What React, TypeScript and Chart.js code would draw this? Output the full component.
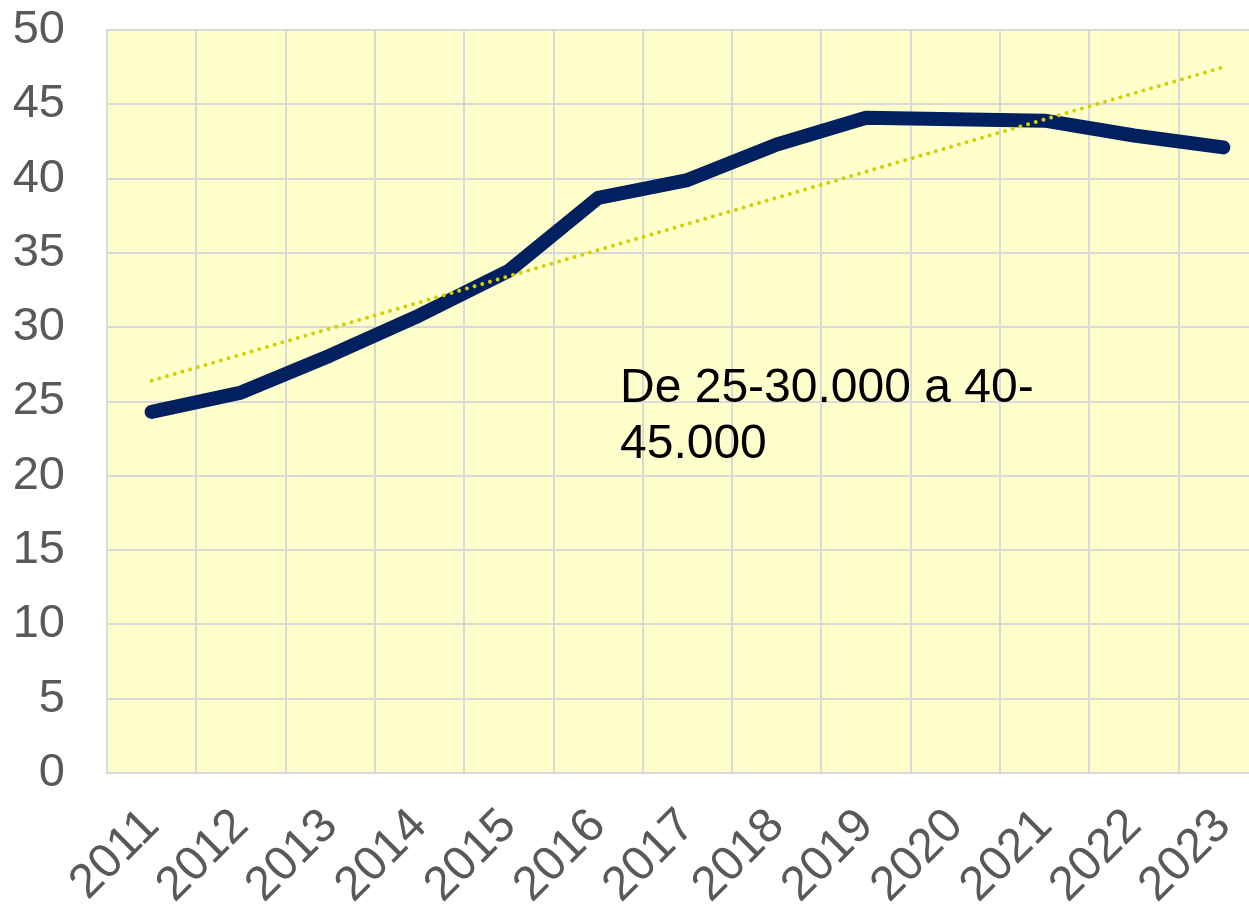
import React, { useEffect, useRef } from "react";
import { Chart, registerables } from "chart.js";

Chart.register(...registerables);

const years = ["2011", "2012", "2013", "2014", "2015", "2016", "2017", "2018", "2019", "2020", "2021", "2022", "2023"];
const values = [24.3, 25.6, 28.1, 30.8, 33.8, 38.7, 39.9, 42.3, 44.1, 44.0, 43.9, 42.9, 42.1];
const trendValues = [26.4, null, null, null, null, null, null, null, null, null, null, null, 47.5];
const yTicks = [0, 5, 10, 15, 20, 25, 30, 35, 40, 45, 50];
const annotationLines = ["De 25-30.000 a 40-", "45.000"];

const FONT = "'Liberation Sans', Arial, sans-serif";

const bgPlugin = {
  id: "plotBg",
  beforeDraw(chart: any) {
    const { ctx, chartArea } = chart;
    ctx.save();
    ctx.fillStyle = "#FFFFCC";
    ctx.fillRect(chartArea.left, chartArea.top, chartArea.right - chartArea.left, chartArea.bottom - chartArea.top);
    ctx.restore();
  },
};

const annotationPlugin = {
  id: "annot",
  afterDatasetsDraw(chart: any) {
    const { ctx, chartArea } = chart;
    ctx.save();
    ctx.fillStyle = "#000000";
    ctx.font = `48px ${FONT}`;
    ctx.textAlign = "left";
    ctx.textBaseline = "alphabetic";
    annotationLines.forEach((line, i) => {
      ctx.fillText(line, chartArea.left + 513, 402 + i * 56);
    });
    ctx.restore();
  },
};

export default function App() {
  const ref = useRef<HTMLCanvasElement | null>(null);
  useEffect(() => {
    if (!ref.current) return;
    const chart = new Chart(ref.current, {
      type: "line",
      data: {
        labels: years,
        datasets: [
          {
            data: values,
            borderColor: "#002060",
            borderWidth: 14,
            borderCapStyle: "round",
            borderJoinStyle: "round",
            pointRadius: 0,
            tension: 0,
            order: 1,
          },
          {
            data: trendValues,
            borderColor: "#d4cf00",
            borderWidth: 4,
            borderDash: [0.01, 8],
            borderCapStyle: "round",
            pointRadius: 0,
            spanGaps: true,
            order: 0,
          },
        ],
      },
      options: {
        responsive: false,
        animation: false,
        layout: { padding: { top: 30, left: 0, right: 0, bottom: 0 } },
        plugins: { legend: { display: false }, tooltip: { enabled: false } },
        scales: {
          x: {
            offset: true,
            grid: { offset: true, color: "#d9d9d9", lineWidth: 2, drawTicks: false },
            border: { color: "#d9d9d9", width: 2 },
            ticks: {
              autoSkip: false,
              minRotation: 45,
              maxRotation: 45,
              padding: 25,
              color: "#595959",
              font: { family: FONT, size: 48 },
            },
            afterFit(scale: any) {
              scale.height = 137;
              scale.paddingLeft = 0;
              scale.paddingRight = 0;
            },
          },
          y: {
            min: 0,
            max: 50,
            afterBuildTicks(scale: any) {
              scale.ticks = yTicks.map((v) => ({ value: v }));
            },
            grid: { color: "#d9d9d9", lineWidth: 2, drawTicks: false },
            border: { color: "#d9d9d9", width: 2 },
            ticks: {
              padding: 42,
              color: "#595959",
              font: { family: FONT, size: 47 },
            },
            afterFit(scale: any) {
              scale.width = 107;
              scale.paddingTop = 0;
              scale.paddingBottom = 0;
            },
          },
        },
      },
      plugins: [bgPlugin, annotationPlugin],
    });
    return () => chart.destroy();
  }, []);
  return (
    <div style={{ position: "fixed", left: 0, top: 0, width: 1249, height: 910, overflow: "hidden", background: "#ffffff" }}>
      <canvas ref={ref} width={1268} height={910} style={{ display: "block", width: 1268, height: 910 }} />
    </div>
  );
}
